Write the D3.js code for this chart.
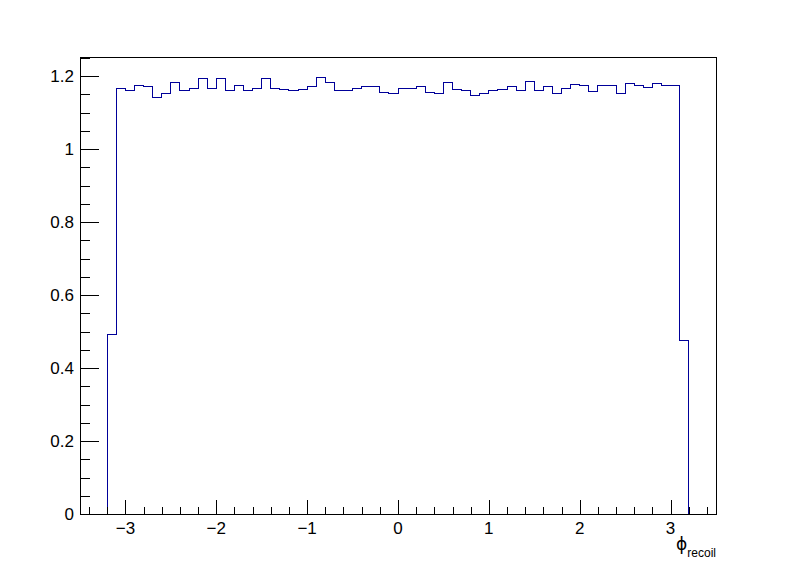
<!DOCTYPE html>
<html>
<head>
<meta charset="utf-8">
<script src="https://cdn.jsdelivr.net/npm/d3@7"></script>
<style>
  html, body { margin: 0; padding: 0; background: #ffffff; }
  svg { display: block; }
  text { font-family: "Liberation Sans", Arial, Helvetica, sans-serif; fill: #000; }
</style>
</head>
<body>
<svg id="chart" width="796" height="572"></svg>
<script>
// ---- data ----
const binStart = -3.2;
const binWidth = 0.1;
const binValues = [
  0.493, 1.167, 1.159, 1.174, 1.172, 1.142, 1.152, 1.183, 1.159, 1.167,
  1.192, 1.167, 1.192, 1.161, 1.174, 1.161, 1.167, 1.192, 1.167, 1.164,
  1.161, 1.164, 1.170, 1.195, 1.183, 1.159, 1.161, 1.167, 1.172, 1.172,
  1.155, 1.152, 1.167, 1.167, 1.170, 1.155, 1.152, 1.183, 1.164, 1.159,
  1.147, 1.152, 1.161, 1.164, 1.170, 1.159, 1.185, 1.159, 1.172, 1.152,
  1.167, 1.177, 1.174, 1.158, 1.173, 1.174, 1.152, 1.180, 1.173, 1.169,
  1.180, 1.173, 1.173, 0.474
];
const xMajorTicks = [-3, -2, -1, 0, 1, 2, 3];
const xTickLabels = ["\u22123", "\u22122", "\u22121", "0", "1", "2", "3"];
const yMajorTicks = [0, 0.2, 0.4, 0.6, 0.8, 1, 1.2];
const yTickLabels = ["0", "0.2", "0.4", "0.6", "0.8", "1", "1.2"];
const xDomain = [-3.5, 3.5];
const yDomain = [0, 1.2521];

// ---- layout ----
const svg = d3.select("#chart");
const L = 80, R = 716, T = 57, B = 514;
const x = d3.scaleLinear().domain(xDomain).range([L, R]);
const y = d3.scaleLinear().domain(yDomain).range([B, T]);

const g = svg.append("g").attr("shape-rendering", "crispEdges");

// histogram
const pts = [[binStart, 0]];
binValues.forEach((v, i) => {
  const lo = binStart + i * binWidth, hi = lo + binWidth;
  pts.push([lo, v], [hi, v]);
});
pts.push([binStart + binValues.length * binWidth, 0]);
const line = d3.line().x(d => x(d[0])).y(d => y(d[1]));
g.append("path").attr("d", line(pts))
  .attr("fill", "none").attr("stroke", "#000099").attr("stroke-width", 1);

// frame
g.append("rect").attr("x", L).attr("y", T).attr("width", R - L).attr("height", B - T)
  .attr("fill", "none").attr("stroke", "#000").attr("stroke-width", 1);

// x axis ticks
const xMinor = d3.range(-34, 35, 2).map(v => v / 10).filter(v => Math.abs(v - Math.round(v)) > 1e-6);
g.selectAll(".xmaj").data(xMajorTicks).enter().append("line")
  .attr("x1", d => Math.round(x(d)) + 0.5).attr("x2", d => Math.round(x(d)) + 0.5)
  .attr("y1", B).attr("y2", B - 14).attr("stroke", "#000");
g.selectAll(".xmin").data(xMinor).enter().append("line")
  .attr("x1", d => Math.round(x(d)) + 0.5).attr("x2", d => Math.round(x(d)) + 0.5)
  .attr("y1", B).attr("y2", B - 7).attr("stroke", "#000");

// y axis ticks
const yMinor = d3.range(0, 26).map(v => v * 0.05).filter(v => v <= yDomain[1] && Math.abs(v * 5 - Math.round(v * 5)) > 1e-6);
g.selectAll(".ymaj").data(yMajorTicks).enter().append("line")
  .attr("x1", L).attr("x2", L + 19)
  .attr("y1", d => Math.round(y(d)) + 0.5).attr("y2", d => Math.round(y(d)) + 0.5).attr("stroke", "#000");
g.selectAll(".ymin").data(yMinor).enter().append("line")
  .attr("x1", L).attr("x2", L + 10)
  .attr("y1", d => Math.round(y(d)) + 0.5).attr("y2", d => Math.round(y(d)) + 0.5).attr("stroke", "#000");

// labels
svg.selectAll(".xl").data(xMajorTicks).enter().append("text")
  .attr("x", d => x(d)).attr("y", 534).attr("text-anchor", "middle")
  .attr("font-size", 17).text((d, i) => xTickLabels[i]);
svg.selectAll(".yl").data(yMajorTicks).enter().append("text")
  .attr("x", 74).attr("y", d => y(d) + 6).attr("text-anchor", "end")
  .attr("font-size", 17).text((d, i) => yTickLabels[i]);

// axis title
const title = svg.append("text").attr("x", 716).attr("y", 550).attr("text-anchor", "end");
title.append("tspan").attr("font-size", 17).attr("font-family", "DejaVu Sans").text("\u03D5");
title.append("tspan").attr("font-size", 12).attr("dy", 7).text("recoil");
</script>
</body>
</html>
